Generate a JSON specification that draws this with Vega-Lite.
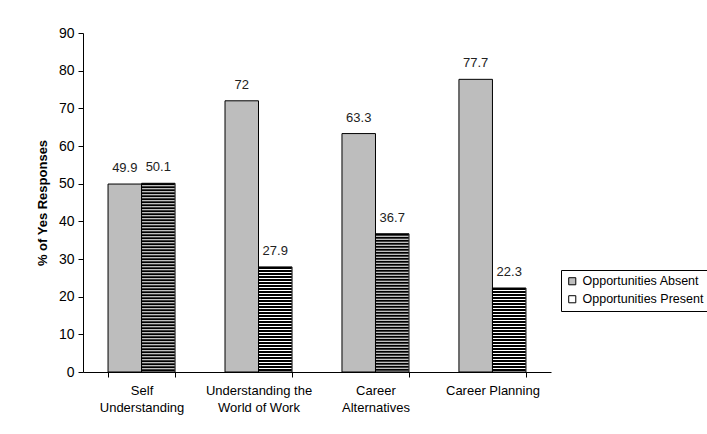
{
  "$schema": "https://vega.github.io/schema/vega-lite/v6.json",
  "width": 468,
  "height": 339,
  "autosize": {"type": "none"},
  "padding": {"left": 83, "top": 33, "right": 156, "bottom": 62},
  "background": "white",
  "config": {
    "font": "Liberation Sans",
    "view": {"stroke": null}
  },
  "data": {
    "values": [
      {"category": "Self Understanding", "series": "Opportunities Absent", "value": 49.9},
      {"category": "Self Understanding", "series": "Opportunities Present", "value": 50.1},
      {"category": "Understanding the World of Work", "series": "Opportunities Absent", "value": 72},
      {"category": "Understanding the World of Work", "series": "Opportunities Present", "value": 27.9},
      {"category": "Career Alternatives", "series": "Opportunities Absent", "value": 63.3},
      {"category": "Career Alternatives", "series": "Opportunities Present", "value": 36.7},
      {"category": "Career Planning", "series": "Opportunities Absent", "value": 77.7},
      {"category": "Career Planning", "series": "Opportunities Present", "value": 22.3}
    ]
  },
  "encoding": {
    "x": {
      "field": "category",
      "type": "nominal",
      "sort": ["Self Understanding", "Understanding the World of Work", "Career Alternatives", "Career Planning"],
      "scale": {"paddingInner": 0.427, "paddingOuter": 0.214},
      "axis": {
        "title": null,
        "labelAngle": 0,
        "tickBand": "extent",
        "tickSize": 5,
        "labelFontSize": 13,
        "labelPadding": 7,
        "labelLineHeight": 17,
        "labelColor": "black",
        "domainColor": "black",
        "tickColor": "black",
        "labelExpr": "!isValid(datum.value) ? '' : datum.value == 'Understanding the World of Work' ? ['Understanding the', 'World of Work'] : datum.value == 'Career Planning' ? 'Career Planning' : split(datum.value, ' ')"
      }
    },
    "xOffset": {
      "field": "series",
      "type": "nominal",
      "scale": {"domain": ["Opportunities Absent", "Opportunities Present"]}
    },
    "y": {
      "field": "value",
      "type": "quantitative",
      "scale": {"domain": [0, 90], "nice": false},
      "axis": {
        "title": "% of Yes Responses",
        "values": [0, 10, 20, 30, 40, 50, 60, 70, 80, 90],
        "grid": false,
        "tickSize": 5,
        "labelFontSize": 14,
        "labelPadding": 4,
        "labelColor": "black",
        "titleFontSize": 13,
        "titleFontWeight": "bold",
        "titleColor": "black",
        "titlePadding": 9,
        "domainColor": "black",
        "tickColor": "black"
      }
    }
  },
  "layer": [
    {
      "mark": {"type": "bar"},
      "encoding": {
        "fill": {
          "field": "series",
          "type": "nominal",
          "scale": {"domain": ["Opportunities Absent", "Opportunities Present"], "range": ["#bdbdbd", "#ffffff"]},
          "legend": {
            "title": null,
            "orient": "none",
            "legendX": 478,
            "legendY": 237,
            "strokeColor": "black",
            "fillColor": "white",
            "padding": 5,
            "symbolType": "square",
            "symbolSize": 50,
            "symbolStrokeColor": "black",
            "symbolStrokeWidth": 1,
            "labelFontSize": 12.5,
            "labelColor": "black",
            "rowPadding": 5
          }
        }
      }
    },
    {
      "transform": [{"filter": "datum.series == 'Opportunities Present'"}],
      "mark": {"type": "rule", "strokeWidth": 33, "strokeDash": [2, 1], "color": "black", "strokeCap": "butt"},
      "encoding": {
        "y2": {"datum": 0}
      }
    },
    {
      "mark": {"type": "bar", "fillOpacity": 0, "stroke": "black", "strokeWidth": 1}
    },
    {
      "mark": {"type": "text", "dy": -16, "fontSize": 13, "color": "#222", "baseline": "middle"},
      "encoding": {
        "text": {"field": "value", "type": "quantitative"}
      }
    }
  ]
}
